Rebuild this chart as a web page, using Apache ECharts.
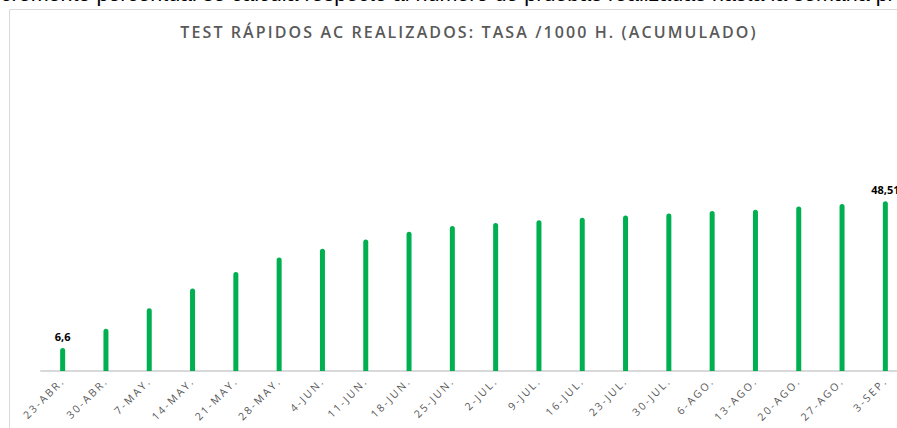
<!DOCTYPE html>
<html>
<head>
<meta charset="utf-8">
<script src="https://cdn.jsdelivr.net/npm/echarts@6/dist/echarts.min.js"></script>
<style>
html,body{margin:0;padding:0;background:#fff;}
#c{width:897px;height:428px;}
</style>
</head>
<body>
<div id="c"></div>
<script>
const categories = ['23-ABR.', '30-ABR.', '7-MAY.', '14-MAY.', '21-MAY.', '28-MAY.', '4-JUN.', '11-JUN.', '18-JUN.', '25-JUN.', '2-JUL.', '9-JUL.', '16-JUL.', '23-JUL.', '30-JUL.', '6-AGO.', '13-AGO.', '20-AGO.', '27-AGO.', '3-SEP.'];
const values = [6.6, 12.1, 17.9, 23.6, 28.3, 32.4, 34.9, 37.6, 39.8, 41.4, 42.3, 43.1, 43.8, 44.4, 45.0, 45.7, 46.1, 47.0, 47.7, 48.51];
const labelledIndexes = [0, 19];
const titleText = 'TEST RÁPIDOS AC REALIZADOS: TASA /1000 H. (ACUMULADO)';
const headerText = 'El incremento porcentual se calcula respecto al número de pruebas realizadas hasta la semana previa.';

const chart = echarts.init(document.getElementById('c'), null, { renderer: 'svg' });
const seriesData = values.map((v, i) => ({
  value: v,
  label: {
    show: labelledIndexes.includes(i),
    position: 'top',
    distance: 6,
    formatter: p => String(p.value).replace('.', ','),
    color: '#000',
    fontWeight: 'bold',
    fontSize: 11,
    fontFamily: 'Open Sans'
  }
}));

chart.setOption({
  animation: false,
  backgroundColor: '#fff',
  title: {
    text: titleText,
    left: 464,
    top: 19,
    textAlign: 'center',
    textStyle: { color: '#595959', fontSize: 16, fontWeight: 600, fontFamily: 'Open Sans' }
  },
  graphic: [
    { type: 'rect', shape: { x: 9.5, y: 9.5, width: 900, height: 430 }, style: { fill: 'none', stroke: '#d9d9d9', lineWidth: 1 }, silent: true },
    { type: 'text', x: -41, y: 5, style: { text: headerText, fill: '#000', font: '21.5px "Liberation Sans"', textVerticalAlign: 'bottom' }, silent: true }
  ],
  grid: { left: 41, top: 161, width: 866, height: 210, outerBoundsMode: 'none' },
  xAxis: {
    type: 'category',
    data: categories,
    axisLine: { lineStyle: { color: '#d9d9d9', width: 2 } },
    axisTick: { show: false },
    axisLabel: { rotate: 45, margin: 8, color: '#595959', fontSize: 10.5, fontFamily: 'Open Sans', interval: 0 }
  },
  yAxis: {
    type: 'value', min: 0, max: 60, show: false, splitLine: { show: false }
  },
  series: [{
    type: 'bar',
    data: seriesData,
    barWidth: 5,
    itemStyle: { color: '#00b050', borderRadius: [3, 3, 0, 0] }
  }]
});

function applySpacing() {
  document.querySelectorAll('#c svg text').forEach(t => {
    const s = t.textContent;
    if (s === titleText) t.style.letterSpacing = '2.1px';
    else if (categories.includes(s)) t.style.letterSpacing = '2.2px';
  });
}
applySpacing();
chart.on('finished', applySpacing);
setTimeout(applySpacing, 50);
</script>
</body>
</html>
